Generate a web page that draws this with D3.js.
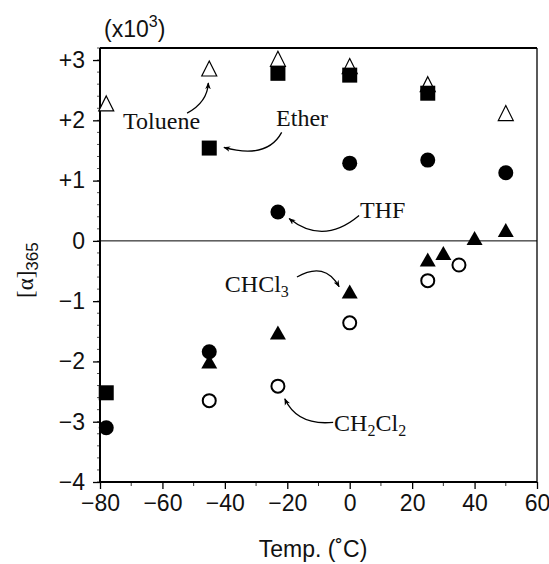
<!DOCTYPE html>
<html>
<head>
<meta charset="utf-8">
<script src="https://cdn.jsdelivr.net/npm/d3@7"></script>
<style>
  body { margin: 0; background: #fff; }
  svg { display: block; }
  .tick text { font-family: "Liberation Sans", Arial, sans-serif; }
</style>
</head>
<body>
<div id="chart"></div>
<script>
// temperatures (C) and [a]365 values (x10^3) for each solvent
var tolueneT = [-78, -45, -23, 0, 25, 50];
var tolueneV = [2.28, 2.86, 3.02, 2.9, 2.6, 2.12];
var etherT = [-78, -45, -23, 0, 25];
var etherV = [-2.52, 1.54, 2.78, 2.75, 2.45];
var thfT = [-78, -45, -23, 0, 25, 50];
var thfV = [-3.1, -1.84, 0.48, 1.29, 1.34, 1.13];
var chcl3T = [-45, -23, 0, 25, 30, 40, 50];
var chcl3V = [-2.0, -1.52, -0.84, -0.31, -0.2, 0.05, 0.18];
var ch2cl2T = [-45, -23, 0, 25, 35];
var ch2cl2V = [-2.65, -2.41, -1.36, -0.66, -0.4];

var xTicks = [-80, -60, -40, -20, 0, 20, 40, 60];
var yTicks = [-4, -3, -2, -1, 0, 1, 2, 3];
var yTickLabels = ["\u22124", "\u22123", "\u22122", "\u22121", "0", "+1", "+2", "+3"];

var W = 549, H = 564;
var margin = {top: 48, right: 12, bottom: 82, left: 100};

var svg = d3.select("#chart").append("svg")
  .attr("width", W).attr("height", H);

var x = d3.scaleLinear().domain([-80, 60]).range([margin.left, W - margin.right]);
var y = d3.scaleLinear().domain([-4, 3.2]).range([H - margin.bottom, margin.top]);

// arrow head
svg.append("defs").append("marker")
  .attr("id", "ah").attr("viewBox", "0 0 10 10")
  .attr("refX", 9).attr("refY", 5)
  .attr("markerWidth", 7).attr("markerHeight", 7)
  .attr("markerUnits", "userSpaceOnUse")
  .attr("orient", "auto")
  .append("path").attr("d", "M0,1 L10,5 L0,9 L3,5 Z").attr("fill", "#000");

// minor ticks
var yMinor = d3.range(-4, 3.21, 0.2);
svg.append("g").selectAll("line").data(yMinor).enter().append("line")
  .attr("x1", x(-80) - 3).attr("x2", x(-80))
  .attr("y1", function(d){ return y(d); }).attr("y2", function(d){ return y(d); })
  .attr("stroke", "#555").attr("stroke-width", 1);
var xMinor = d3.range(-70, 60, 20);
svg.append("g").selectAll("line").data(xMinor).enter().append("line")
  .attr("x1", function(d){ return x(d); }).attr("x2", function(d){ return x(d); })
  .attr("y1", y(-4)).attr("y2", y(-4) + 4)
  .attr("stroke", "#333").attr("stroke-width", 1);

// axes
var xAxis = svg.append("g")
  .attr("transform", "translate(0," + y(-4) + ")")
  .call(d3.axisBottom(x).tickValues(xTicks).tickSize(7).tickPadding(6)
    .tickFormat(function(d){ return d < 0 ? "\u2212" + Math.abs(d) : d; }));
var yAxis = svg.append("g")
  .attr("transform", "translate(" + x(-80) + ",0)")
  .call(d3.axisLeft(y).tickValues(yTicks).tickSize(7).tickPadding(8)
    .tickFormat(function(d, i){ return yTickLabels[i]; }));
[xAxis, yAxis].forEach(function(g){
  g.select(".domain").remove();
  g.selectAll(".tick line").attr("stroke", "#000").attr("stroke-width", 1.3);
  g.selectAll(".tick text").attr("font-size", 23).attr("fill", "#111");
});

// frame
svg.append("line").attr("x1", x(-80)).attr("x2", x(-80)).attr("y1", y(3.2)).attr("y2", y(-4))
  .attr("stroke", "#000").attr("stroke-width", 2);
svg.append("line").attr("x1", x(-80)).attr("x2", x(60)).attr("y1", y(-4)).attr("y2", y(-4))
  .attr("stroke", "#000").attr("stroke-width", 2);
svg.append("line").attr("x1", x(-80)).attr("x2", x(60)).attr("y1", y(3.2)).attr("y2", y(3.2))
  .attr("stroke", "#000").attr("stroke-width", 2);
svg.append("line").attr("x1", x(60)).attr("x2", x(60)).attr("y1", y(3.2)).attr("y2", y(-4))
  .attr("stroke", "#000").attr("stroke-width", 1.3);
// zero line
svg.append("line").attr("x1", x(-80)).attr("x2", x(60)).attr("y1", y(0)).attr("y2", y(0))
  .attr("stroke", "#000").attr("stroke-width", 1);

function pts(T, V) { return T.map(function(t, i){ return [t, V[i]]; }); }
function tri(w, h) { return "M0," + (-h/2) + "L" + (w/2) + "," + (h/2) + "L" + (-w/2) + "," + (h/2) + "Z"; }

var g = svg.append("g");
// toluene: open triangles
g.selectAll(".tol").data(pts(tolueneT, tolueneV)).enter().append("path")
  .attr("transform", function(d){ return "translate(" + x(d[0]) + "," + y(d[1]) + ")"; })
  .attr("d", tri(15, 15)).attr("fill", "#fff").attr("stroke", "#000").attr("stroke-width", 1.2);
// ether: filled squares
g.selectAll(".eth").data(pts(etherT, etherV)).enter().append("rect")
  .attr("x", function(d){ return x(d[0]) - 7.5; }).attr("y", function(d){ return y(d[1]) - 7.5; })
  .attr("width", 15).attr("height", 15).attr("fill", "#000");
// THF: filled circles
g.selectAll(".thf").data(pts(thfT, thfV)).enter().append("circle")
  .attr("cx", function(d){ return x(d[0]); }).attr("cy", function(d){ return y(d[1]); })
  .attr("r", 7.5).attr("fill", "#000");
// CHCl3: filled triangles
g.selectAll(".chc").data(pts(chcl3T, chcl3V)).enter().append("path")
  .attr("transform", function(d){ return "translate(" + x(d[0]) + "," + y(d[1]) + ")"; })
  .attr("d", tri(16, 14)).attr("fill", "#000");
// CH2Cl2: open circles
g.selectAll(".chh").data(pts(ch2cl2T, ch2cl2V)).enter().append("circle")
  .attr("cx", function(d){ return x(d[0]); }).attr("cy", function(d){ return y(d[1]); })
  .attr("r", 6.5).attr("fill", "#fff").attr("stroke", "#000").attr("stroke-width", 2);

// labels with curved arrows (data coords)
var notes = [
  {text: "Toluene", sub: null, tx: -72.6, ty: 1.85, a: [[-52.1, 2.12], [-45.6, 2.3], [-45.3, 2.62]]},
  {text: "Ether", sub: null, tx: -23.6, ty: 1.9, a: [[-21.8, 1.8], [-26.5, 1.35], [-40.3, 1.55]]},
  {text: "THF", sub: null, tx: 3.3, ty: 0.38, a: [[3.0, 0.42], [-8.5, -0.08], [-19.4, 0.37]]},
  {text: "CHCl", sub: "3", tx: -40, ty: -0.84, a: [[-16.9, -0.6], [-8, -0.33], [-3.4, -0.76]]},
  {text: "CH", sub: "2", text2: "Cl", sub2: "2", tx: -5.0, ty: -3.16, a: [[-5.3, -3.01], [-16.8, -3.07], [-20.8, -2.62]]}
];
notes.forEach(function(n){
  var t = svg.append("text").attr("x", x(n.tx)).attr("y", y(n.ty))
    .attr("font-family", "'Liberation Serif', 'Times New Roman', serif")
    .attr("font-size", 24).attr("fill", "#111");
  t.append("tspan").text(n.text);
  if (n.sub) t.append("tspan").attr("font-size", 16).attr("dy", 5).text(n.sub);
  if (n.text2) {
    t.append("tspan").attr("dy", -5).text(n.text2);
    t.append("tspan").attr("font-size", 16).attr("dy", 5).text(n.sub2);
  }
  var p = d3.path();
  p.moveTo(x(n.a[0][0]), y(n.a[0][1]));
  p.quadraticCurveTo(x(n.a[1][0]), y(n.a[1][1]), x(n.a[2][0]), y(n.a[2][1]));
  svg.append("path").attr("d", p.toString()).attr("fill", "none")
    .attr("stroke", "#000").attr("stroke-width", 1.3).attr("marker-end", "url(#ah)");
});

// (x10^3)
var e = svg.append("text").attr("x", 104).attr("y", 37)
  .attr("font-family", "'Liberation Sans', Arial, sans-serif").attr("font-size", 23).attr("fill", "#111");
e.append("tspan").text("(x10");
e.append("tspan").attr("font-size", 16).attr("dy", -10).text("3");
e.append("tspan").attr("dy", 10).text(")");

// y label
var yl = svg.append("text").attr("transform", "translate(33,298) rotate(-90)")
  .attr("fill", "#111");
yl.append("tspan").attr("font-family", "'Liberation Serif', serif").attr("font-size", 23).text("[\u03b1]");
yl.append("tspan").attr("font-family", "'Liberation Sans', Arial, sans-serif").attr("font-size", 17).attr("dy", 5).text("365");

// x label
svg.append("text").attr("x", 313).attr("y", 557).attr("text-anchor", "middle")
  .attr("font-family", "'Liberation Sans', Arial, sans-serif").attr("font-size", 23).attr("fill", "#111")
  .text("Temp. (\u02daC)");
</script>
</body>
</html>
